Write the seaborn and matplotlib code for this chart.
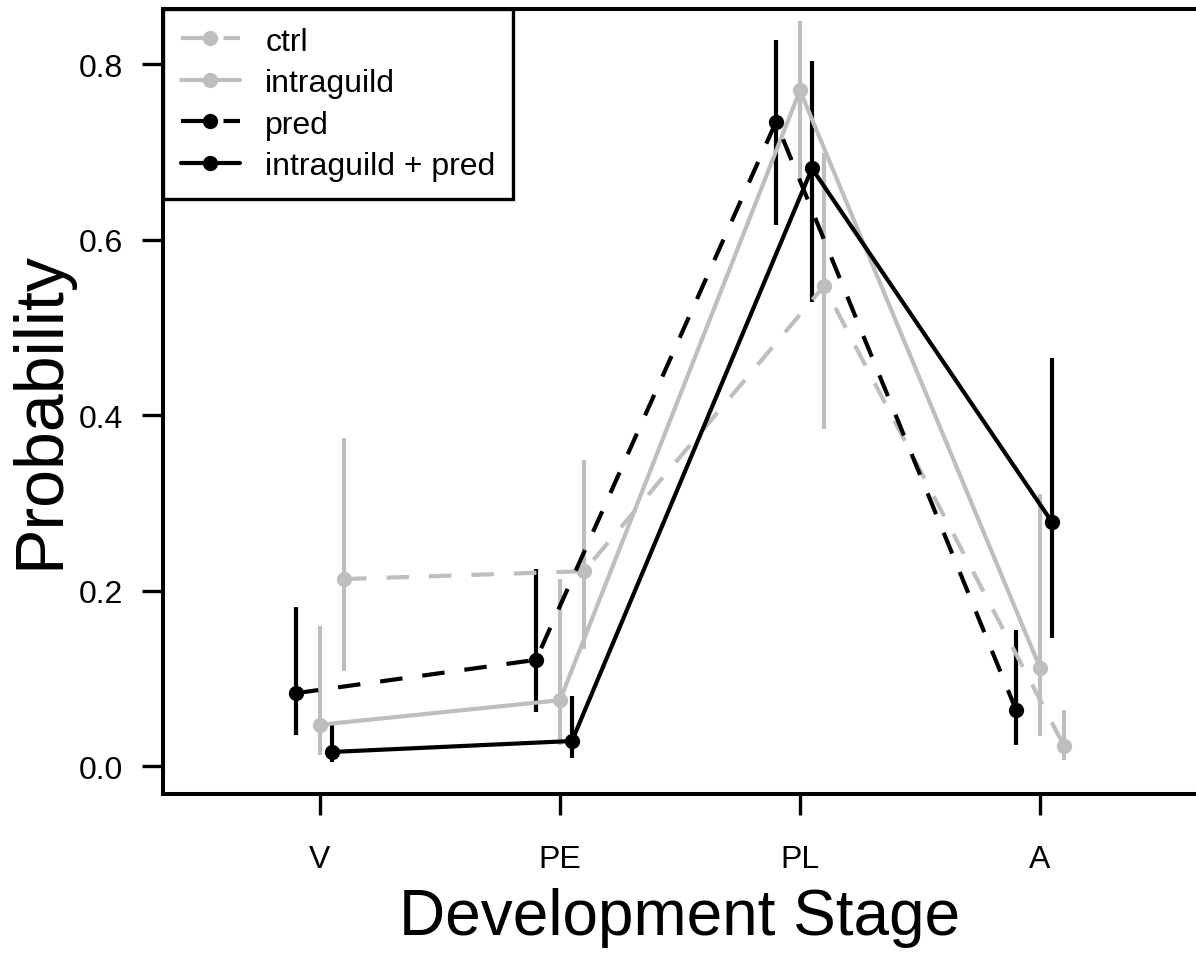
import numpy as np
import pandas as pd
import matplotlib
matplotlib.use("Agg")
import matplotlib.pyplot as plt
import seaborn as sns
from matplotlib.lines import Line2D

# Development stages on the x axis
stages = ["V", "PE", "PL", "A"]
treatments = ["ctrl", "intraguild", "pred", "intraguild + pred"]

# Estimated probabilities with lower / upper interval bounds per treatment
ctrl_p = [0.213, 0.222, 0.547, 0.023]
ctrl_lo = [0.108, 0.133, 0.384, 0.007]
ctrl_hi = [0.374, 0.349, 0.699, 0.064]

ig_p = [0.047, 0.075, 0.770, 0.112]
ig_lo = [0.0125, 0.024, 0.666, 0.034]
ig_hi = [0.160, 0.213, 0.849, 0.310]

pred_p = [0.083, 0.121, 0.734, 0.064]
pred_lo = [0.035, 0.0615, 0.617, 0.024]
pred_hi = [0.181, 0.2245, 0.827, 0.155]

igp_p = [0.016, 0.0285, 0.681, 0.278]
igp_lo = [0.0046, 0.009, 0.529, 0.146]
igp_hi = [0.050, 0.080, 0.803, 0.465]

values = {
    "ctrl": (ctrl_p, ctrl_lo, ctrl_hi),
    "intraguild": (ig_p, ig_lo, ig_hi),
    "pred": (pred_p, pred_lo, pred_hi),
    "intraguild + pred": (igp_p, igp_lo, igp_hi),
}

rows = []
for t in treatments:
    p, lo, hi = values[t]
    for i, s in enumerate(stages):
        rows.append({"treatment": t, "stage": s, "idx": i + 1,
                     "prob": p[i], "lo": lo[i], "hi": hi[i]})
df = pd.DataFrame(rows)

# Styling: horizontal dodge, colour and dash per treatment
GREY = "#BEBEBE"
dodge = {"ctrl": 0.10, "intraguild": 0.0, "pred": -0.10, "intraguild + pred": 0.05}
colors = {"ctrl": GREY, "intraguild": GREY, "pred": "black", "intraguild + pred": "black"}
DASH = (0, (5.4, 4.8))
lstyles = {"ctrl": DASH, "intraguild": "-", "pred": DASH, "intraguild + pred": "-"}
df["x"] = df["idx"] + df["treatment"].map(dodge)

sns.set_theme(style="white")
plt.rcParams["font.family"] = ["Liberation Sans", "DejaVu Sans"]
plt.rcParams["text.color"] = "black"

W, H = 1196, 954
fig = plt.figure(figsize=(W / 100, H / 100), dpi=100)
left, right, top, bottom = 163, 1196, 10, 795
ax = fig.add_axes([left / W, (H - bottom) / H, (right - left) / W, (bottom - top) / H])

LW = 3.0
MS = 11
for t in treatments:
    sub = df[df["treatment"] == t]
    ax.vlines(sub["x"], sub["lo"], sub["hi"], color=colors[t], lw=LW, zorder=2)
    sns.lineplot(data=sub, x="x", y="prob", ax=ax, color=colors[t],
                 linestyle=lstyles[t], linewidth=LW, marker="o",
                 markersize=MS, markeredgewidth=0, sort=False,
                 legend=False, zorder=3)

ax.set_xlim(0.346, 4.65)
ax.set_ylim(-0.0319, 0.8627)
ax.set_xticks(range(1, len(stages) + 1))
ax.set_xticklabels(stages)
ax.set_yticks([0.0, 0.2, 0.4, 0.6, 0.8])
ax.set_yticklabels(["0.0", "0.2", "0.4", "0.6", "0.8"])
ax.tick_params(axis="both", which="both", direction="out", length=15,
               width=2.4, color="black", labelsize=23, labelcolor="black",
               bottom=True, left=True, top=False, right=False)
ax.tick_params(axis="x", pad=21)
ax.tick_params(axis="y", pad=14)
ax.grid(False)

for side in ["left", "bottom", "top"]:
    ax.spines[side].set_visible(True)
    ax.spines[side].set_color("black")
    ax.spines[side].set_linewidth(2.9)
ax.spines["right"].set_visible(False)

ax.set_xlabel("Development Stage", fontsize=46, color="black")
ax.set_ylabel("Probability", fontsize=49, color="black")
ax.xaxis.set_label_coords(0.5, (bottom - 888) / (bottom - top))
ax.yaxis.set_label_coords((72 - left) / (right - left), 0.49)

handles = [Line2D([], [], color=colors[t], linestyle=lstyles[t], linewidth=LW,
                  marker="o", markersize=MS, markeredgewidth=0) for t in treatments]
leg = ax.legend(handles, treatments, loc="upper left", fontsize=23,
                frameon=True, fancybox=False, borderaxespad=0,
                borderpad=0.55, labelspacing=0.36, handlelength=1.85,
                handletextpad=0.8)
for txt in leg.get_texts():
    txt.set_color("black")
leg.get_frame().set_edgecolor("black")
leg.get_frame().set_linewidth(2.4)
leg.get_frame().set_facecolor("white")
leg.get_frame().set_alpha(1)
leg.set_zorder(5)

fig.savefig("out.png", dpi=100)
